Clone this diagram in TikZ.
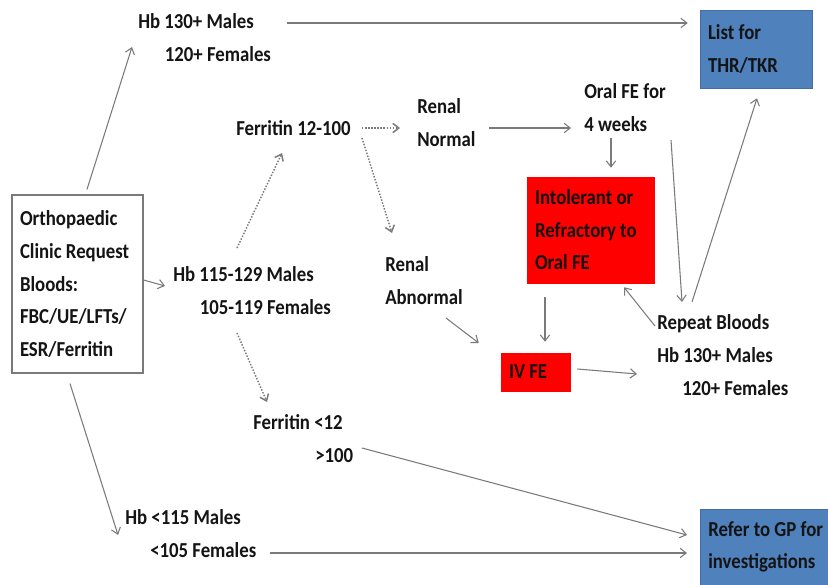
\documentclass[tikz,border=0pt]{standalone}
\usepackage{fontspec}
\setmainfont{Carlito}[FakeStretch=0.88]
\usetikzlibrary{arrows.meta}
\definecolor{ink}{HTML}{141414}
\definecolor{linegrey}{HTML}{7A7A7A}
\definecolor{boxblue}{HTML}{4F81BD}
\definecolor{boxred}{HTML}{FF0000}
\tikzset{
  lbl/.style={anchor=base west,inner sep=0pt,align=left,text=ink},
  greybox/.style={draw=linegrey,line width=0.9pt,fill=white,text=ink,align=flush left,inner xsep=6pt},
  bluebox/.style={draw=boxblue!85!black,fill=boxblue,text=ink,align=flush left,inner xsep=6pt},
  redbox/.style={draw=boxred,fill=boxred,text=ink,align=flush left,inner xsep=6pt},
  dots/.style={line width=1.1pt,dash pattern=on 1.1pt off 1.2pt}
}
\begin{document}
\begin{tikzpicture}[x=0.75pt,y=-0.75pt,font={\fontsize{16}{24.4}\selectfont\bfseries},
    >={Straight Barb[length=4.5pt,width=7pt]}]
  \useasboundingbox (0,0) rectangle (828,585);
  \draw
    (77.5,284) node[greybox,text width=86.25pt,minimum height=133.5pt] (ortho)
      {Orthopaedic\\Clinic Request\\Bloods:\\FBC/UE/LFTs/\\ESR/Ferritin}
    (138,61.5) node[lbl] (hbhigh){Hb 130+ Males\\\hspace*{20pt}120+ Females}
    (173,314.5) node[lbl] (hbmid){Hb 115-129 Males\\\hspace*{20pt}105-119 Females}
    (125,557.5) node[lbl] (hblow){Hb <115 Males\\\hspace*{18.75pt}<105 Females}
    (236,135) node[lbl] (ferritinmid){Ferritin 12-100}
    (253,462.5) node[lbl] (ferritinext){Ferritin <12\\\hspace*{46.5pt}>100}
    (417,146.5) node[lbl] (renalnormal){Renal\\Normal}
    (385,304.5) node[lbl] (renalabnormal){Renal\\Abnormal}
    (584,131.5) node[lbl] (oralfe){Oral FE for\\4 weeks}
    (657,395) node[lbl] (repeat){Repeat Bloods\\Hb 130+ Males\\\hspace*{18.75pt}120+ Females}
    (590.5,230) node[redbox,text width=83.25pt,minimum height=79.5pt] (intol)
      {Intolerant or\\Refractory to\\Oral FE}
    (535.5,372) node[redbox,text width=39.75pt,minimum height=28.5pt] (ivfe){IV FE}
    (756,49) node[bluebox,text width=72pt,minimum height=58.5pt] (thr){List for\\THR/TKR};
  \draw (700,547) node[bluebox,anchor=west,text width=95pt,minimum height=57pt] (gp)
      {Refer to GP for\\investigations};
  \begin{scope}[->,draw=linegrey,line width=0.8pt]
    \draw ([shift={(9.5,-5)}]ortho.north) to ([shift={(-6,-14.5)}]hbhigh.base west);
    \draw ([shift={(149,-38.5)}]hbhigh.base west) to ([shift={(-12,-26)}]thr.west);
    \draw ([shift={(0,-4)}]ortho.east) to ([shift={(-8,-28.5)}]hbmid.base west);
    \draw ([shift={(-7.5,10)}]ortho.south) to ([shift={(-7,-22.5)}]hblow.base west);
    \draw ([shift={(145,-4.5)}]hblow.base west) to ([shift={(-13,6)}]gp.west);
    \draw[dots] ([shift={(64,-66.5)}]hbmid.base west) to ([shift={(46,18)}]ferritinmid.base west);
    \draw[dots] ([shift={(64,18.5)}]hbmid.base west) to ([shift={(14,-60.5)}]ferritinext.base west);
    \draw[dots] ([shift={(126,-7)}]ferritinmid.base west) to ([shift={(-17,-18.5)}]renalnormal.base west);
    \draw[dots] ([shift={(126,3)}]ferritinmid.base west) to ([shift={(7,-71.5)}]renalabnormal.base west);
    \draw ([shift={(109,-14.5)}]ferritinext.base west) to ([shift={(-13,-12)}]gp.west);
    \draw ([shift={(72,-18.5)}]renalnormal.base west) to ([shift={(-13,-3.5)}]oralfe.base west);
    \draw ([shift={(61,13.5)}]renalabnormal.base west) to ([shift={(-22,-29)}]ivfe.west);
    \draw ([shift={(27,6.5)}]oralfe.base west) to ([shift={(20.5,-9)}]intol.north);
    \draw ([shift={(87,8.5)}]oralfe.base west) to ([shift={(25,-93)}]repeat.base west);
    \draw ([shift={(-45.5,14)}]intol.south) to ([shift={(9.5,-11)}]ivfe.north);
    \draw ([shift={(7,-3)}]ivfe.east) to ([shift={(-20,-21)}]repeat.base west);
    \draw ([shift={(-2,-69)}]repeat.base west) to ([shift={(33.5,4)}]intol.south);
    \draw ([shift={(35,-93)}]repeat.base west) to ([shift={(1,10)}]thr.south);
  \end{scope}
\end{tikzpicture}
\end{document}
